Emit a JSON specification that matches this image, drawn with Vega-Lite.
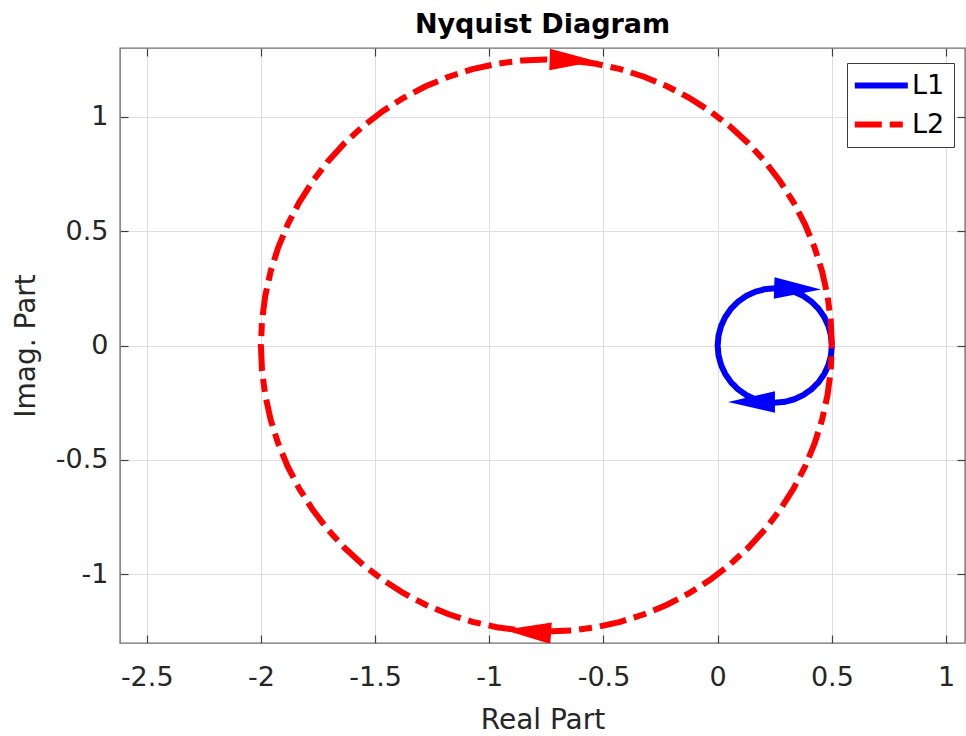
{
  "$schema": "https://vega.github.io/schema/vega-lite/v6.json",
  "width": 845,
  "height": 595,
  "autosize": {"type": "none"},
  "padding": {"left": 120, "top": 48, "right": 1, "bottom": 93},
  "background": "white",
  "title": {"text": "Nyquist Diagram", "font": "DejaVu Sans", "fontSize": 27, "fontWeight": "bold", "color": "#000000", "anchor": "middle", "offset": 8},
  "config": {
    "view": {"stroke": "#6f6f6f", "strokeWidth": 1.4},
    "axis": {"labelFont": "DejaVu Sans", "labelFontSize": 27, "labelColor": "#262626", "titleFont": "DejaVu Sans", "titleFontSize": 28, "titleFontWeight": "normal", "titleColor": "#262626", "tickColor": "#404040", "tickSize": -8, "tickWidth": 1.2, "domain": false, "gridColor": "#dedede", "gridWidth": 1, "labelFlush": false, "labelOverlap": false}
  },
  "datasets": {
    "lines": [
      {"s": "L1", "i": 0, "x": 0.5, "y": 0},
      {"s": "L1", "i": 1, "x": 0.4962, "y": 0.0434},
      {"s": "L1", "i": 2, "x": 0.4849, "y": 0.0855},
      {"s": "L1", "i": 3, "x": 0.4665, "y": 0.125},
      {"s": "L1", "i": 4, "x": 0.4415, "y": 0.1607},
      {"s": "L1", "i": 5, "x": 0.4107, "y": 0.1915},
      {"s": "L1", "i": 6, "x": 0.375, "y": 0.2165},
      {"s": "L1", "i": 7, "x": 0.3355, "y": 0.2349},
      {"s": "L1", "i": 8, "x": 0.2934, "y": 0.2462},
      {"s": "L1", "i": 9, "x": 0.25, "y": 0.25},
      {"s": "L1", "i": 10, "x": 0.2066, "y": 0.2462},
      {"s": "L1", "i": 11, "x": 0.1645, "y": 0.2349},
      {"s": "L1", "i": 12, "x": 0.125, "y": 0.2165},
      {"s": "L1", "i": 13, "x": 0.0893, "y": 0.1915},
      {"s": "L1", "i": 14, "x": 0.0585, "y": 0.1607},
      {"s": "L1", "i": 15, "x": 0.0335, "y": 0.125},
      {"s": "L1", "i": 16, "x": 0.0151, "y": 0.0855},
      {"s": "L1", "i": 17, "x": 0.0038, "y": 0.0434},
      {"s": "L1", "i": 18, "x": 0, "y": 0},
      {"s": "L1", "i": 19, "x": 0.0038, "y": -0.0434},
      {"s": "L1", "i": 20, "x": 0.0151, "y": -0.0855},
      {"s": "L1", "i": 21, "x": 0.0335, "y": -0.125},
      {"s": "L1", "i": 22, "x": 0.0585, "y": -0.1607},
      {"s": "L1", "i": 23, "x": 0.0893, "y": -0.1915},
      {"s": "L1", "i": 24, "x": 0.125, "y": -0.2165},
      {"s": "L1", "i": 25, "x": 0.1645, "y": -0.2349},
      {"s": "L1", "i": 26, "x": 0.2066, "y": -0.2462},
      {"s": "L1", "i": 27, "x": 0.25, "y": -0.25},
      {"s": "L1", "i": 28, "x": 0.2934, "y": -0.2462},
      {"s": "L1", "i": 29, "x": 0.3355, "y": -0.2349},
      {"s": "L1", "i": 30, "x": 0.375, "y": -0.2165},
      {"s": "L1", "i": 31, "x": 0.4107, "y": -0.1915},
      {"s": "L1", "i": 32, "x": 0.4415, "y": -0.1607},
      {"s": "L1", "i": 33, "x": 0.4665, "y": -0.125},
      {"s": "L1", "i": 34, "x": 0.4849, "y": -0.0855},
      {"s": "L1", "i": 35, "x": 0.4962, "y": -0.0434},
      {"s": "L1", "i": 36, "x": 0.5, "y": 0},
      {"s": "L2", "i": 0, "x": 0.5, "y": 0},
      {"s": "L2", "i": 1, "x": 0.4952, "y": 0.109},
      {"s": "L2", "i": 2, "x": 0.481, "y": 0.2171},
      {"s": "L2", "i": 3, "x": 0.4574, "y": 0.3235},
      {"s": "L2", "i": 4, "x": 0.4246, "y": 0.4275},
      {"s": "L2", "i": 5, "x": 0.3829, "y": 0.5283},
      {"s": "L2", "i": 6, "x": 0.3325, "y": 0.625},
      {"s": "L2", "i": 7, "x": 0.2739, "y": 0.717},
      {"s": "L2", "i": 8, "x": 0.2076, "y": 0.8035},
      {"s": "L2", "i": 9, "x": 0.1339, "y": 0.8839},
      {"s": "L2", "i": 10, "x": 0.0535, "y": 0.9576},
      {"s": "L2", "i": 11, "x": -0.033, "y": 1.0239},
      {"s": "L2", "i": 12, "x": -0.125, "y": 1.0825},
      {"s": "L2", "i": 13, "x": -0.2217, "y": 1.1329},
      {"s": "L2", "i": 14, "x": -0.3225, "y": 1.1746},
      {"s": "L2", "i": 15, "x": -0.4265, "y": 1.2074},
      {"s": "L2", "i": 16, "x": -0.5329, "y": 1.231},
      {"s": "L2", "i": 17, "x": -0.6411, "y": 1.2452},
      {"s": "L2", "i": 18, "x": -0.75, "y": 1.25},
      {"s": "L2", "i": 19, "x": -0.8589, "y": 1.2452},
      {"s": "L2", "i": 20, "x": -0.9671, "y": 1.231},
      {"s": "L2", "i": 21, "x": -1.0735, "y": 1.2074},
      {"s": "L2", "i": 22, "x": -1.1775, "y": 1.1746},
      {"s": "L2", "i": 23, "x": -1.2783, "y": 1.1329},
      {"s": "L2", "i": 24, "x": -1.375, "y": 1.0825},
      {"s": "L2", "i": 25, "x": -1.467, "y": 1.0239},
      {"s": "L2", "i": 26, "x": -1.5535, "y": 0.9576},
      {"s": "L2", "i": 27, "x": -1.6339, "y": 0.8839},
      {"s": "L2", "i": 28, "x": -1.7076, "y": 0.8035},
      {"s": "L2", "i": 29, "x": -1.7739, "y": 0.717},
      {"s": "L2", "i": 30, "x": -1.8325, "y": 0.625},
      {"s": "L2", "i": 31, "x": -1.8829, "y": 0.5283},
      {"s": "L2", "i": 32, "x": -1.9246, "y": 0.4275},
      {"s": "L2", "i": 33, "x": -1.9574, "y": 0.3235},
      {"s": "L2", "i": 34, "x": -1.981, "y": 0.2171},
      {"s": "L2", "i": 35, "x": -1.9952, "y": 0.109},
      {"s": "L2", "i": 36, "x": -2.0, "y": 0},
      {"s": "L2", "i": 37, "x": -1.9952, "y": -0.109},
      {"s": "L2", "i": 38, "x": -1.981, "y": -0.2171},
      {"s": "L2", "i": 39, "x": -1.9574, "y": -0.3235},
      {"s": "L2", "i": 40, "x": -1.9246, "y": -0.4275},
      {"s": "L2", "i": 41, "x": -1.8829, "y": -0.5283},
      {"s": "L2", "i": 42, "x": -1.8325, "y": -0.625},
      {"s": "L2", "i": 43, "x": -1.7739, "y": -0.717},
      {"s": "L2", "i": 44, "x": -1.7076, "y": -0.8035},
      {"s": "L2", "i": 45, "x": -1.6339, "y": -0.8839},
      {"s": "L2", "i": 46, "x": -1.5535, "y": -0.9576},
      {"s": "L2", "i": 47, "x": -1.467, "y": -1.0239},
      {"s": "L2", "i": 48, "x": -1.375, "y": -1.0825},
      {"s": "L2", "i": 49, "x": -1.2783, "y": -1.1329},
      {"s": "L2", "i": 50, "x": -1.1775, "y": -1.1746},
      {"s": "L2", "i": 51, "x": -1.0735, "y": -1.2074},
      {"s": "L2", "i": 52, "x": -0.9671, "y": -1.231},
      {"s": "L2", "i": 53, "x": -0.8589, "y": -1.2452},
      {"s": "L2", "i": 54, "x": -0.75, "y": -1.25},
      {"s": "L2", "i": 55, "x": -0.6411, "y": -1.2452},
      {"s": "L2", "i": 56, "x": -0.5329, "y": -1.231},
      {"s": "L2", "i": 57, "x": -0.4265, "y": -1.2074},
      {"s": "L2", "i": 58, "x": -0.3225, "y": -1.1746},
      {"s": "L2", "i": 59, "x": -0.2217, "y": -1.1329},
      {"s": "L2", "i": 60, "x": -0.125, "y": -1.0825},
      {"s": "L2", "i": 61, "x": -0.033, "y": -1.0239},
      {"s": "L2", "i": 62, "x": 0.0535, "y": -0.9576},
      {"s": "L2", "i": 63, "x": 0.1339, "y": -0.8839},
      {"s": "L2", "i": 64, "x": 0.2076, "y": -0.8035},
      {"s": "L2", "i": 65, "x": 0.2739, "y": -0.717},
      {"s": "L2", "i": 66, "x": 0.3325, "y": -0.625},
      {"s": "L2", "i": 67, "x": 0.3829, "y": -0.5283},
      {"s": "L2", "i": 68, "x": 0.4246, "y": -0.4275},
      {"s": "L2", "i": 69, "x": 0.4574, "y": -0.3235},
      {"s": "L2", "i": 70, "x": 0.481, "y": -0.2171},
      {"s": "L2", "i": 71, "x": 0.4952, "y": -0.109},
      {"s": "L2", "i": 72, "x": 0.5, "y": 0}
    ],
    "arrows": [
      {"s": "L1", "x": 0.35, "y": 0.248, "dir": 2},
      {"s": "L1", "x": 0.148, "y": -0.247, "dir": 180},
      {"s": "L2", "x": -0.633, "y": 1.246, "dir": 2},
      {"s": "L2", "x": -0.832, "y": -1.25, "dir": 184}
    ]
  },
  "layer": [
    {
      "data": {"name": "lines"},
      "mark": {"type": "line", "strokeWidth": 6, "strokeCap": "butt", "clip": true},
      "encoding": {
        "x": {"field": "x", "type": "quantitative", "scale": {"domain": [-2.617, 1.083], "nice": false, "zero": false},
          "axis": {"orient": "bottom", "values": [-2.5, -2, -1.5, -1, -0.5, 0, 0.5, 1], "labelExpr": "'' + datum.value", "labelPadding": 29, "grid": true, "title": "Real Part", "titlePadding": 16}},
        "y": {"field": "y", "type": "quantitative", "scale": {"domain": [-1.3, 1.3], "nice": false, "zero": false},
          "axis": {"orient": "left", "values": [-1, -0.5, 0, 0.5, 1], "labelExpr": "'' + datum.value", "labelPadding": 20, "grid": true, "title": "Imag. Part", "titlePadding": 15}},
        "order": {"field": "i", "type": "quantitative"},
        "color": {"field": "s", "type": "nominal", "scale": {"domain": ["L1", "L2"], "range": ["#0000ff", "#ff0000"]},
          "legend": {"title": null, "orient": "none", "legendX": 727, "legendY": 15, "fillColor": "white", "strokeColor": "#3a3a3a", "padding": 9, "rowPadding": 11, "symbolType": "M -1.4 0 L 3.65 0", "symbolSize": 441, "symbolStrokeWidth": 6, "labelOffset": 29, "labelFont": "DejaVu Sans", "labelFontSize": 27, "labelColor": "#000000"}},
        "strokeDash": {"field": "s", "type": "nominal", "scale": {"domain": ["L1", "L2"], "range": [[1, 0], [27, 8, 13, 8]]},
          "legend": {"title": null, "orient": "none", "legendX": 727, "legendY": 15, "fillColor": "white", "strokeColor": "#3a3a3a", "padding": 9, "rowPadding": 11, "symbolType": "M -1.4 0 L 3.65 0", "symbolSize": 441, "symbolStrokeWidth": 6, "labelOffset": 29, "labelFont": "DejaVu Sans", "labelFontSize": 27, "labelColor": "#000000"}}
      }
    },
    {
      "data": {"name": "arrows"},
      "mark": {"type": "point", "shape": "M -1 -0.46 L 1 0 L -1 0.46 Z", "filled": true, "opacity": 1, "strokeWidth": 0, "size": 2200, "clip": true},
      "encoding": {
        "x": {"field": "x", "type": "quantitative", "axis": {"orient": "top", "values": [-2.5, -2, -1.5, -1, -0.5, 0, 0.5, 1], "labels": false, "grid": false, "title": null}},
        "y": {"field": "y", "type": "quantitative", "axis": {"orient": "right", "values": [-1, -0.5, 0, 0.5, 1], "labels": false, "grid": false, "title": null}},
        "angle": {"field": "dir", "type": "quantitative", "scale": {"domain": [0, 360], "range": [0, 360]}},
        "color": {"field": "s", "type": "nominal", "legend": null}
      }
    }
  ],
  "resolve": {"axis": {"x": "independent", "y": "independent"}}
}
